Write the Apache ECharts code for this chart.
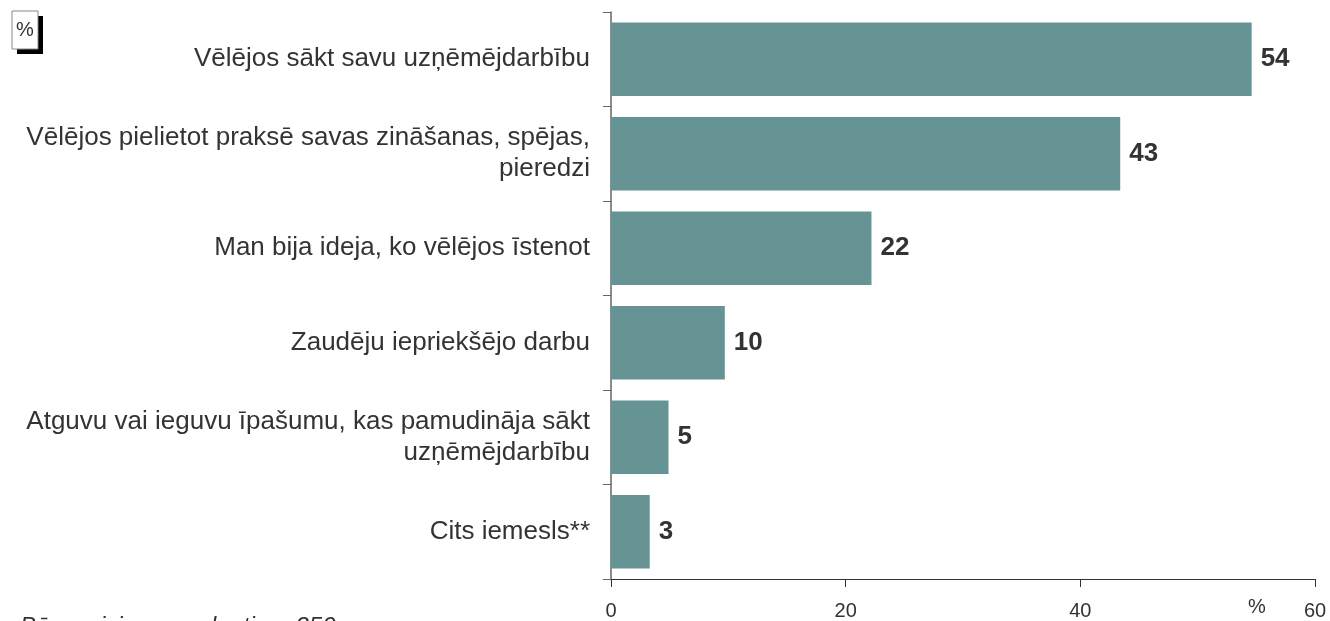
<!DOCTYPE html>
<html lang="lv">
<head>
    <meta charset="UTF-8">
    <title>Iemesli uzņēmējdarbības uzsākšanai</title>
    <script src="https://cdn.jsdelivr.net/npm/echarts@6/dist/echarts.min.js"></script>
    <style>
        html, body { margin: 0; padding: 0; background: #fff; }
        #chart { width: 1330px; height: 621px; }
    </style>
</head>
<body>
<div id="chart"></div>
<script>
    // dati
    var categories = [
        'Vēlējos sākt savu uzņēmējdarbību',
        'Vēlējos pielietot praksē savas zināšanas, spējas,\npieredzi',
        'Man bija ideja, ko vēlējos īstenot',
        'Zaudēju iepriekšējo darbu',
        'Atguvu vai ieguvu īpašumu, kas pamudināja sākt\nuzņēmējdarbību',
        'Cits iemesls**'
    ];
    var values = [54.6, 43.4, 22.2, 9.7, 4.9, 3.3];
    var valueLabels = [54, 43, 22, 10, 5, 3];
    var xTicks = [0, 20, 40, 60];
    var baseNote = 'Bāze: visi respondenti, n=350';

    var FONT = '"Liberation Sans", Arial, sans-serif';
    var chart = echarts.init(document.getElementById('chart'));

    var option = {
        animation: false,
        backgroundColor: '#fff',
        grid: {left: 611, right: 15, top: 12, bottom: 39, containLabel: false},
        xAxis: {
            type: 'value',
            min: xTicks[0],
            max: xTicks[xTicks.length - 1],
            interval: xTicks[1] - xTicks[0],
            splitLine: {show: false},
            axisLine: {show: true, lineStyle: {color: '#333', width: 1}},
            axisTick: {show: true, length: 8, lineStyle: {color: '#333'}},
            axisLabel: {margin: 22, fontSize: 20, color: '#333', fontFamily: FONT}
        },
        yAxis: {
            type: 'category',
            inverse: true,
            data: categories,
            axisLine: {show: true, lineStyle: {color: '#666', width: 1.5}},
            axisTick: {show: true, length: 8, lineStyle: {color: '#666'}},
            axisLabel: {
                margin: 21, fontSize: 26, color: '#333', fontFamily: FONT,
                align: 'right', lineHeight: 31, padding: [0, 0, -3, 0]
            }
        },
        series: [{
            type: 'bar',
            data: values,
            barCategoryGap: '22%',
            itemStyle: {color: '#669494'},
            label: {
                show: true,
                position: 'right',
                distance: 9,
                fontSize: 26,
                fontWeight: 'bold',
                color: '#333',
                fontFamily: FONT,
                formatter: function (p) { return valueLabels[p.dataIndex]; }
            }
        }],
        graphic: [
            {type: 'rect', shape: {x: 17, y: 16, width: 26, height: 38}, style: {fill: '#000'}},
            {type: 'rect', shape: {x: 12, y: 11, width: 26, height: 38}, style: {fill: '#fff', stroke: '#888', lineWidth: 1}},
            {type: 'text', x: 25, y: 30, style: {text: '%', fontSize: 20, fill: '#333', fontFamily: FONT, align: 'center', verticalAlign: 'middle'}},
            {type: 'text', x: 1257, y: 607, style: {text: '%', fontSize: 20, fill: '#333', fontFamily: FONT, align: 'center', verticalAlign: 'middle'}},
            {type: 'text', left: 20, top: 615, style: {text: baseNote, fontSize: 24, fontStyle: 'italic', fill: '#333', fontFamily: FONT}}
        ]
    };

    chart.setOption(option);
</script>
</body>
</html>
